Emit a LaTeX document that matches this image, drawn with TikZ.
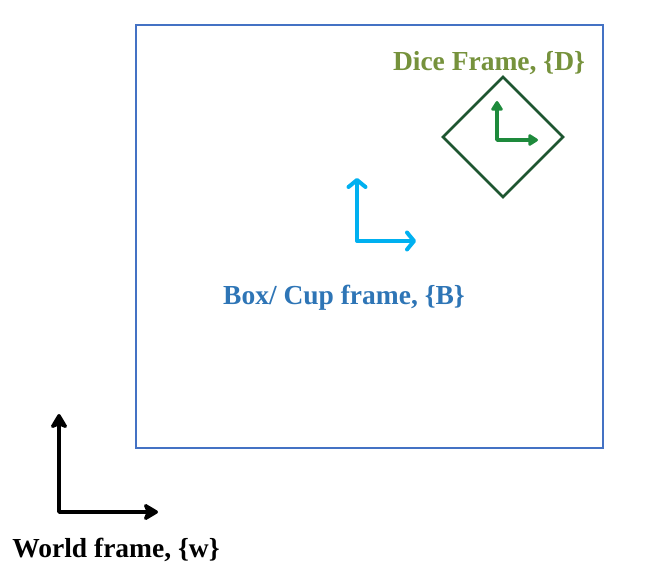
\documentclass[tikz,border=0pt]{standalone}
\usepackage{fontspec}
\setmainfont{Liberation Serif}
\usetikzlibrary{arrows.meta}
\definecolor{boxblue}{HTML}{4472C4}
\definecolor{dicegreen}{HTML}{1E5631}
\definecolor{diceaxis}{HTML}{1E8A3C}
\definecolor{diceolive}{HTML}{76923C}
\definecolor{cupcyan}{HTML}{00B0F0}
\definecolor{cupblue}{HTML}{2E75B6}
\tikzset{
  lab/.style={font=\bfseries\fontsize{27.5}{32}\selectfont, inner sep=0pt},
  daxis/.style={{Triangle[length=11pt,width=13pt,round]}-{Triangle[length=11pt,width=13pt,round]}, line cap=round, line join=round},
  baxis/.style={{Straight Barb[length=7pt,width=17pt,round]}-{Straight Barb[length=7pt,width=17pt,round]}, line cap=round, line join=round},
  waxis/.style={{Stealth[length=17pt,width=20pt,inset=4pt,round]}-{Stealth[length=17pt,width=20pt,inset=4pt,round]}, line cap=round, line join=round},
}
\begin{document}
\begin{tikzpicture}[x=1pt,y=-1pt]
\useasboundingbox (0,0) rectangle (646,586);
% box
\draw[boxblue, line width=2.5pt] (136,25) rectangle (603,448);
% dice
\draw[dicegreen, line width=2.5pt] (503,77) -- (563,137) -- (503,197) -- (443,137) -- cycle;
\coordinate (dy) at (497,101);
\coordinate (dx) at (538,140);
\draw[diceaxis, line width=3.5pt, daxis] (dy) |- (dx);
\node[lab, text=diceolive] (dlab) at (489,63) {Dice Frame, \{D\}};
% cup
\coordinate (by) at (357,178);
\coordinate (bx) at (416,241);
\draw[cupcyan, line width=4pt, baxis] (by) |- (bx);
\node[lab, text=cupblue] (blab) at (344,298) {Box/ Cup frame, \{B\}};
% world
\coordinate (wy) at (59,414);
\coordinate (wx) at (158,512);
\draw[black, line width=3.5pt, waxis] (wy) |- (wx);
\node[lab, text=black] (wlab) at (116,550) {World frame, \{w\}};
\end{tikzpicture}
\end{document}
